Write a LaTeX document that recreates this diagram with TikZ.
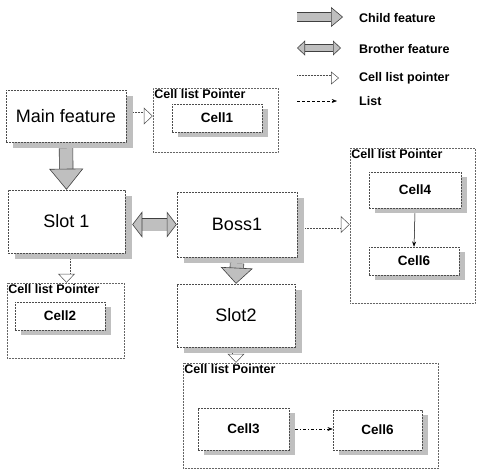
\documentclass[tikz,border=0pt]{standalone}
\usepackage{fontspec}
\setmainfont{Liberation Sans}
\usetikzlibrary{arrows.meta,shadows}

\begin{document}
\begin{tikzpicture}[
    x=1pt, y=-1pt,
    >=Stealth,
    sz/.style 2 args={minimum width=#1, minimum height=#2},
    feat/.style={draw=black!70, dash pattern=on 2pt off 1pt, line width=0.5pt, fill=white,
        inner sep=0pt, font=\fontsize{18}{20}\selectfont,
        drop shadow={shadow xshift=7pt, shadow yshift=-6pt, fill=gray!50, opacity=1}},
    cellbox/.style={draw=black!70, dash pattern=on 2pt off 1pt, line width=0.5pt, fill=white,
        inner sep=0pt, font=\bfseries\fontsize{13.5}{15}\selectfont,
        drop shadow={shadow xshift=6pt, shadow yshift=-5pt, fill=gray!50, opacity=1}},
    holder/.style={draw=black!60, densely dotted, line width=0.5pt, inner sep=0pt,
        label={[anchor=north west, inner sep=1.5pt, font=\bfseries\fontsize{12.5}{14}\selectfont]north west:Cell list Pointer}},
    legend/.style={anchor=west, inner sep=0pt, font=\bfseries\fontsize{12.5}{14}\selectfont},
    child/.style={draw=black!75, line width=0.6pt, double=gray!50, double distance=#1},
    ptr/.style={draw=black!70, densely dotted, line width=0.5pt, double=white, double distance=#1},
    list/.style={->, line width=0.5pt}
]
\useasboundingbox (0,0) rectangle (477,475);

% legend
\coordinate (c1) at (297,17);  \coordinate (c2) at (343,17);
\coordinate (b1) at (297,48);  \coordinate (b2) at (341,48);
\coordinate (p1) at (297,78);  \coordinate (p2) at (339,78);
\coordinate (l1) at (297,101); \coordinate (l2) at (337,101);
\draw[child=8pt, -{Triangle[length=12pt 0, width=20pt 0, fill=gray!50, line width=0.6pt]}] (c1) -- (c2);
\draw[child=6pt, {Triangle[length=8pt 0, width=15pt 0, fill=gray!50, line width=0.6pt]}-{Triangle[length=8pt 0, width=15pt 0, fill=gray!50, line width=0.6pt]}] (b1) -- (b2);
\draw[ptr=5pt, -{Triangle[length=8pt 0, width=13pt 0, fill=white, line width=0.5pt]}] (p1) -- (p2);
\draw[list, densely dashed] (l1) -- (l2);
\node[legend] (tc) at (359,18)  {Child feature};
\node[legend] (tb) at (359,49)  {Brother feature};
\node[legend] (tp) at (359,78)  {Cell list pointer};
\node[legend] (tl) at (359,101) {List};

% features
\node[feat, sz={120}{52}] (main)  at (66,116)    {Main feature};
\node[feat, sz={117}{63}] (slot1) at (66.5,221.5) {Slot 1};
\node[feat, sz={120}{65}] (boss1) at (237,224.5) {Boss1};
\node[feat, sz={118}{63}] (slot2) at (236,315.5) {Slot2};

% cell list pointers
\node[holder, sz={125}{64}]  (hold1) at (215.5,120)   {};
\node[holder, sz={125}{155}] (hold4) at (412.5,225.5) {};
\node[holder, sz={117}{75}]  (hold2) at (65.5,320.5)  {};
\node[holder, sz={255}{105}] (hold3) at (310.5,415.5) {};

% cells
\node[cellbox, sz={90}{28}] (cell1)  at (217,118)   {Cell1};
\node[cellbox, sz={92}{36}] (cell4)  at (415,190)   {Cell4};
\node[cellbox, sz={90}{28}] (cell6a) at (414,261)   {Cell6};
\node[cellbox, sz={90}{28}] (cell2)  at (60,316)    {Cell2};
\node[cellbox, sz={91}{42}] (cell3)  at (243.5,429) {Cell3};
\node[cellbox, sz={89}{40}] (cell6b) at (377.5,430) {Cell6};

% child feature
\draw[child=13pt, -{Triangle[length=21pt 0, width=34pt 0, fill=gray!50, line width=0.6pt]}] ([yshift=-6pt]main.south) -- (slot1.north);
\draw[child=13pt, -{Triangle[length=16pt 0, width=32pt 0, fill=gray!50, line width=0.6pt]}] ([yshift=-6pt]boss1.south) -- (slot2.north);

% brother feature
\draw[child=12pt, {Triangle[length=10pt 0, width=26pt 0, fill=gray!50, line width=0.6pt]}-{Triangle[length=10pt 0, width=26pt 0, fill=gray!50, line width=0.6pt]}]
    ([xshift=7pt]slot1.east |- boss1.west) -- (boss1.west);

% cell list pointer
\draw[ptr=7pt, -{Triangle[length=9pt 0, width=17pt 0, fill=white, line width=0.5pt]}] ([xshift=7pt]main.east) -- (main.east -| hold1.west);
\draw[ptr=7pt, -{Triangle[length=9pt 0, width=17pt 0, fill=white, line width=0.5pt]}] ([xshift=8pt]boss1.east) -- (boss1.east -| hold4.west);
\draw[ptr=7pt, -{Triangle[length=9pt 0, width=17pt 0, fill=white, line width=0.5pt]}] ([yshift=-6pt]slot1.south) -- (slot1.south |- hold2.north);
\draw[ptr=7pt, -{Triangle[length=9pt 0, width=17pt 0, fill=white, line width=0.5pt]}] ([yshift=-6pt]slot2.south) -- (slot2.south |- hold3.north);

% list
\draw[list] ([yshift=-5pt]cell4.south) -- (cell6a.north);
\draw[list, dash pattern=on 3pt off 2pt on 1pt off 2pt] ([xshift=6pt]cell3.east) -- (cell3.east -| cell6b.west);

\end{tikzpicture}
\end{document}
